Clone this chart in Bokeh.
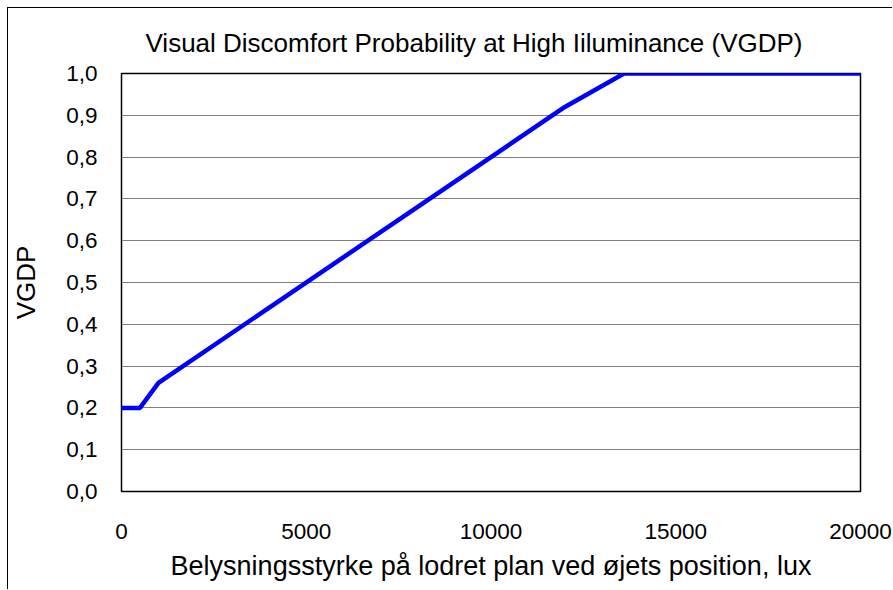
from bokeh.plotting import figure
from bokeh.models import Range1d, FixedTicker, CustomJSTickFormatter
from bokeh.embed import file_html
from bokeh.resources import INLINE

# Data
lux = [0, 500, 1000, 12000, 13600, 20000]
vgdp = [0.20, 0.20, 0.26, 0.92, 1.00, 1.00]

x_ticks = [0, 5000, 10000, 15000, 20000]
y_ticks = [0.0, 0.1, 0.2, 0.3, 0.4, 0.5, 0.6, 0.7, 0.8, 0.9, 1.0]

title_text = "Visual Discomfort Probability at High Iiluminance (VGDP)"
x_label = "Belysningsstyrke på lodret plan ved øjets position, lux"
y_label = "VGDP"

FONT = "Liberation Sans"

p = figure(width=885, height=582, output_backend="svg", toolbar_location=None,
           x_range=Range1d(0, 20000), y_range=Range1d(0, 1),
           min_border_left=113, min_border_right=33, min_border_top=65, min_border_bottom=99,
           title=title_text,
           styles={"margin-left": "7px", "margin-top": "7px",
                   "border-top": "1px solid black", "border-left": "1px solid black"})

p.title.text_font = FONT
p.title.text_font_size = "26px"
p.title.text_font_style = "normal"
p.title.align = "left"
p.title.offset = 24
p.title.standoff = 32
p.title.text_color = "black"

p.outline_line_color = "black"
p.outline_line_width = 1.5
p.background_fill_color = "white"
p.border_fill_color = "white"

p.xgrid.grid_line_color = None
p.ygrid.grid_line_color = "#808080"
p.ygrid.grid_line_width = 1
p.ygrid.ticker = FixedTicker(ticks=y_ticks)

p.xaxis.ticker = FixedTicker(ticks=x_ticks)
p.yaxis.ticker = FixedTicker(ticks=y_ticks)
p.yaxis.formatter = CustomJSTickFormatter(code="return tick.toFixed(1).replace('.', ',');")
p.xaxis.formatter = CustomJSTickFormatter(code="return tick.toFixed(0);")

for ax in (p.xaxis[0], p.yaxis[0]):
    ax.axis_line_color = None
    ax.major_tick_line_color = None
    ax.minor_tick_line_color = None
    ax.major_tick_out = 0
    ax.major_tick_in = 0
    ax.minor_tick_out = 0
    ax.major_label_text_font = FONT
    ax.major_label_text_font_size = "22.5px"
    ax.major_label_text_color = "black"
    ax.axis_label_text_font = FONT
    ax.axis_label_text_font_style = "normal"
    ax.axis_label_text_color = "black"

p.xaxis.axis_label_text_font_size = "27px"
p.yaxis.axis_label_text_font_size = "26px"
p.xaxis.axis_label = x_label
p.yaxis.axis_label = y_label
p.xaxis.major_label_standoff = 32
p.yaxis.major_label_standoff = 24
p.xaxis.axis_label_standoff = 9
p.yaxis.axis_label_standoff = 22

p.line(lux, vgdp, line_color="#0000FF", line_width=4.5)

open("out.html", "w").write(file_html(p, INLINE))
